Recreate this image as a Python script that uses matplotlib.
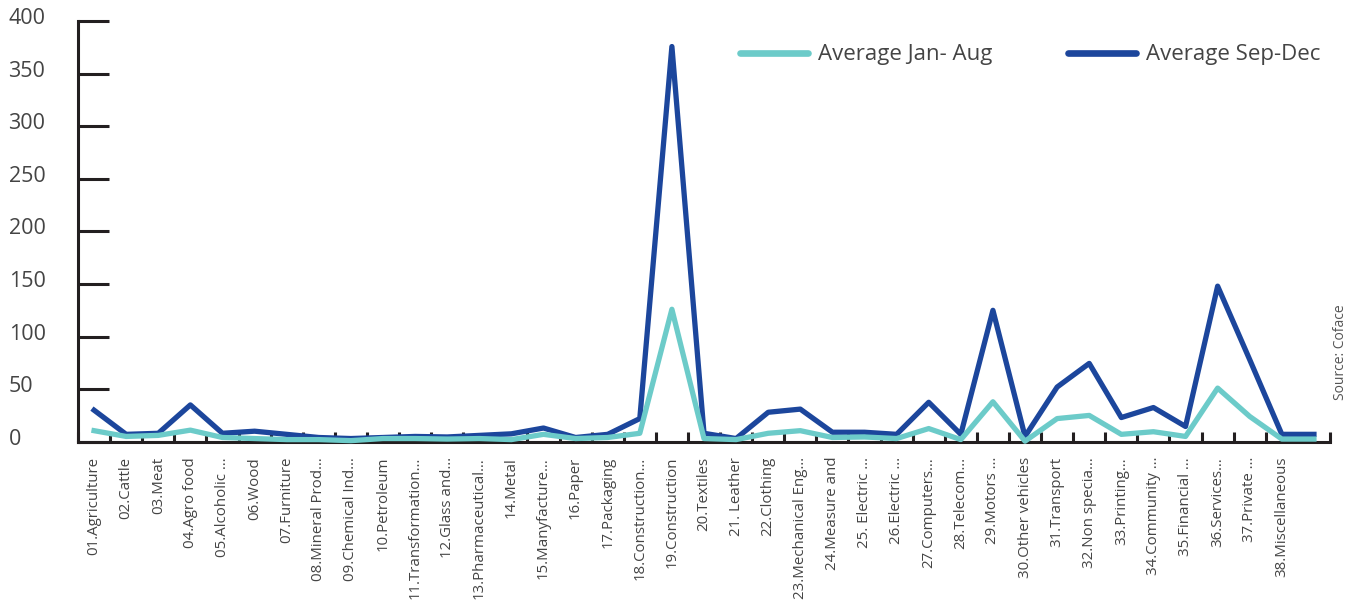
import matplotlib
matplotlib.use("Agg")
import matplotlib.pyplot as plt
import matplotlib.transforms as mtransforms
import numpy as np

categories = [
    "01.Agriculture", "02.Cattle", "03.Meat", "04.Agro food", "05.Alcoholic …",
    "06.Wood", "07.Furniture", "08.Mineral Prod…", "09.Chemical Ind…", "10.Petroleum",
    "11.Transformation…", "12.Glass and…", "13.Pharmaceutical…", "14.Metal",
    "15.Manyfacture…", "16.Paper", "17.Packaging", "18.Construction…",
    "19.Construction", "20.Textiles", "21. Leather", "22.Clothing",
    "23.Mechanical Eng…", "24.Measure and", "25. Electric …", "26.Electric …",
    "27.Computers…", "28.Telecom…", "29.Motors …", "30.Other vehicles",
    "31.Transport", "32.Non specia…", "33.Printing…", "34.Community …",
    "35.Financial …", "36.Services…", "37.Private …", "38.Miscellaneous", "",
]
avg_jan_aug = [10.5, 5, 6, 11, 4, 3, 2, 2, 1, 3, 3, 2.5, 3, 2, 7, 3, 4, 8, 126,
               3, 2, 8, 10.5, 4, 4.5, 3, 12.5, 2, 38, 0.5, 22, 25, 7, 9.5, 5, 51,
               24, 2.5, 2.5]
avg_sep_dec = [30, 7, 8, 35, 8, 10, 7, 4, 3, 4, 5, 4.5, 6, 7.5, 13, 4, 7, 22, 376,
               8, 3, 28, 31, 9, 9, 7, 37.5, 7, 125, 5, 52, 74.5, 23, 32.5, 14.5,
               148, 78, 7, 7]
yticks = [0, 50, 100, 150, 200, 250, 300, 350, 400]

TEAL = "#6ccbc9"
BLUE = "#1c469c"
TXT = "#444444"
AX = "#231f20"

plt.rcParams['font.family'] = ['Open Sans', 'DejaVu Sans']

fig = plt.figure(figsize=(13.58, 6.09), dpi=100)
ax = fig.add_axes([78/1358, 1-441.7/609, (1330-78)/1358, (441.7-21.3)/609])

x = np.arange(len(categories))
l2, = ax.plot(x, avg_sep_dec, color=BLUE, lw=3.8, label="Average Sep-Dec",
              zorder=3, clip_on=False)
l1, = ax.plot(x, avg_jan_aug, color=TEAL, lw=3.8, label="Average Jan- Aug",
              zorder=4, clip_on=False)

ax.set_xlim(-0.5, len(categories) - 0.5)
ax.set_ylim(0, 400)

for s in ["top", "right"]:
    ax.spines[s].set_visible(False)
for s in ["left", "bottom"]:
    ax.spines[s].set_color(AX)
    ax.spines[s].set_linewidth(2.2)

ax.set_yticks(yticks)
ax.set_yticklabels([str(v) for v in yticks])
ax.tick_params(axis='y', direction='in', length=22.5, width=2.2, color=AX,
               labelsize=15.5, labelcolor=TXT, pad=50)
for lab in ax.get_yticklabels():
    lab.set_ha('left')
    lab.set_transform(lab.get_transform() +
                      mtransforms.ScaledTranslation(0, 5/100, fig.dpi_scale_trans))

ax.set_xticks(x)
ax.set_xticklabels(categories, rotation=90, fontsize=10.8, color=TXT)
ax.set_xticks(np.arange(-0.5, len(categories)), minor=True)
ax.tick_params(axis='x', which='major', length=0, pad=11)
ax.tick_params(axis='x', which='minor', direction='in', length=7, width=2.2,
               color=AX)

leg = ax.legend(handles=[l1, l2], loc='center left', bbox_to_anchor=(0.522, 0.92),
                ncol=2, frameon=False, fontsize=16, handlelength=3.05,
                handletextpad=0.45, columnspacing=3.4, borderaxespad=0)
for t in leg.get_texts():
    t.set_color(TXT)
for h in leg.get_lines():
    h.set_linewidth(4.8)
    h.set_solid_capstyle('round')

fig.text(1341/1358, 1-352/609, "Source: Coface", rotation=90, ha='center',
         va='center', fontsize=10, color="#555555")

fig.savefig("out.png", dpi=100)
